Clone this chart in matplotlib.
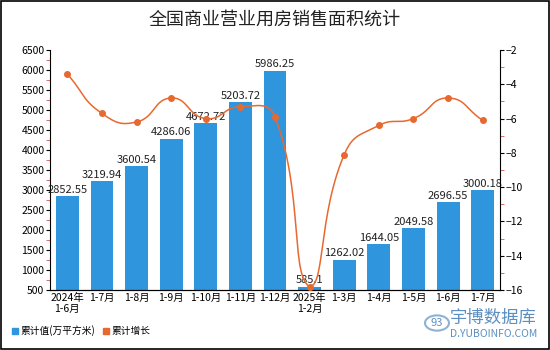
import numpy as np
import matplotlib.pyplot as plt
from matplotlib.patches import Patch, Rectangle, Circle

plt.rcParams["font.family"] = ["Noto Sans CJK SC", "DejaVu Sans"]

# Data: cumulative sales area of commercial premises (10k m2) and YoY growth (%)
periods = ["2024年\n1-6月", "1-7月", "1-8月", "1-9月", "1-10月", "1-11月", "1-12月",
           "2025年\n1-2月", "1-3月", "1-4月", "1-5月", "1-6月", "1-7月"]
area = [2852.55, 3219.94, 3600.54, 4286.06, 4672.72, 5203.72, 5986.25,
        585.1, 1262.02, 1644.05, 2049.58, 2696.55, 3000.18]
growth = [-3.4, -5.7, -6.2, -4.8, -6.0, -5.3, -5.9,
          -15.8, -8.1, -6.4, -6.0, -4.8, -6.1]

BAR_COLOR = "#2f95dc"
LINE_COLOR = "#e8692f"


def smooth_curve(x, y, sx, sy, smooth=0.5, n=30):
    """Bezier smoothing computed in pixel space (sx, sy = px per data unit).
    Control points are scaled by neighbour distances and kept inside
    the bounding box of the points."""
    px = np.asarray(x, float) * sx
    py = np.asarray(y, float) * sy
    pts = np.column_stack([px, py])
    lo, hi = pts.min(axis=0), pts.max(axis=0)
    last = len(pts) - 1
    cps = []
    for i, p in enumerate(pts):
        prev = pts[max(i - 1, 0)]
        nxt = pts[min(i + 1, last)]
        v = nxt - prev
        d0 = np.hypot(*(p - prev))
        d1 = np.hypot(*(p - nxt))
        s = d0 + d1
        if s:
            d0, d1 = d0 / s, d1 / s
        c0 = np.clip(p - v * smooth * d0, lo, hi)
        c1 = np.clip(p + v * smooth * d1, lo, hi)
        cps.append((c0, c1))
    t = np.linspace(0, 1, n)[:, None]
    out = []
    for i in range(last):
        p1, p2 = pts[i], pts[i + 1]
        c1, c2 = cps[i][1], cps[i + 1][0]
        out.append(((1 - t) ** 3) * p1 + 3 * ((1 - t) ** 2) * t * c1
                   + 3 * (1 - t) * t ** 2 * c2 + t ** 3 * p2)
    seg = np.vstack(out)
    return seg[:, 0] / sx, seg[:, 1] / sy


fig = plt.figure(figsize=(5.5, 3.5), dpi=100)
ax = fig.add_axes([50 / 550, 1 - 290 / 350, 450 / 550, 240 / 350])
ax2 = ax.twinx()

x = np.arange(len(periods))
ax.bar(x, area, width=0.66, color=BAR_COLOR, zorder=2)
for xi, v in zip(x, area):
    ax.text(xi, max(v, 500) + 30, f"{v:g}",
            ha="center", va="bottom", fontsize=8, color="#222222", zorder=5)

ax.set_xlim(-0.5, len(periods) - 0.5)
ax.set_ylim(500, 6500)
ax.set_yticks(np.arange(500, 6501, 500))
ax.set_yticks(np.arange(750, 6500, 500), minor=True)
ax.set_xticks(x)
ax.set_xticklabels(periods, fontsize=7.5, linespacing=1.1)
ax.tick_params(axis="x", length=0, pad=2)
ax.tick_params(axis="y", which="major", length=3, labelsize=7.5, pad=1)
ax.tick_params(axis="y", which="minor", length=3, color="#e05050")
ax.spines["top"].set_visible(False)
ax.spines["right"].set_visible(False)

# pixels per unit on each axis, for the smoothing
px_x = 450 / len(periods)
px_y = 240 / 14
cx, cy = smooth_curve(x, growth, px_x, px_y)
ax2.plot(cx, cy, color=LINE_COLOR, lw=1.1, zorder=3)
ax2.plot(x, growth, "o", color=LINE_COLOR, ms=4, zorder=4)
ax2.set_ylim(-16, -2)
ax2.set_yticks(np.arange(-16, -1, 2))
ax2.set_yticks(np.arange(-15, -2, 2), minor=True)
ax2.set_yticklabels([f"−{abs(v)}" for v in range(-16, -1, 2)])
ax2.tick_params(axis="y", which="major", length=3, labelsize=7.5, pad=1)
ax2.tick_params(axis="y", which="minor", length=3, color="#e05050")
ax2.spines["top"].set_visible(False)
ax2.spines["left"].set_visible(False)
ax2.set_zorder(ax.get_zorder() + 1)
ax2.patch.set_visible(False)

fig.text(0.5, 1 - 20 / 350, "全国商业营业用房销售面积统计", ha="center", va="center",
         fontsize=13, color="#222222")

handles = [Patch(color=BAR_COLOR, label="累计值(万平方米)"),
           Patch(color=LINE_COLOR, label="累计增长")]
fig.legend(handles=handles, loc="lower left", bbox_to_anchor=(3 / 550, 5 / 350),
           ncol=2, frameon=False, fontsize=7, handlelength=0.6, handleheight=0.6,
           handletextpad=0.3, columnspacing=0.8)

# watermark
fig.text(450 / 550, 1 - 318 / 350, "宇博数据库", fontsize=12.5, color="#5b8fc2",
         ha="left", va="center")
fig.text(450 / 550, 1 - 334 / 350, "D.YUBOINFO.COM", fontsize=7.5, color="#5b8fc2",
         ha="left", va="center")
fig.patches.append(Circle((437 / 550, 1 - 323 / 350), 12 / 550, transform=fig.transFigure,
                          fill=False, ec="#8fb2d4", lw=1.5))
fig.text(437 / 550, 1 - 323 / 350, "93", fontsize=8, color="#5b8fc2", ha="center",
         va="center", style="italic")

# outer frame
fig.patches.append(Rectangle((0.001, 0.002), 0.997, 0.995, transform=fig.transFigure,
                             fill=False, ec="black", lw=1.2))

fig.savefig("out.png", dpi=100)
